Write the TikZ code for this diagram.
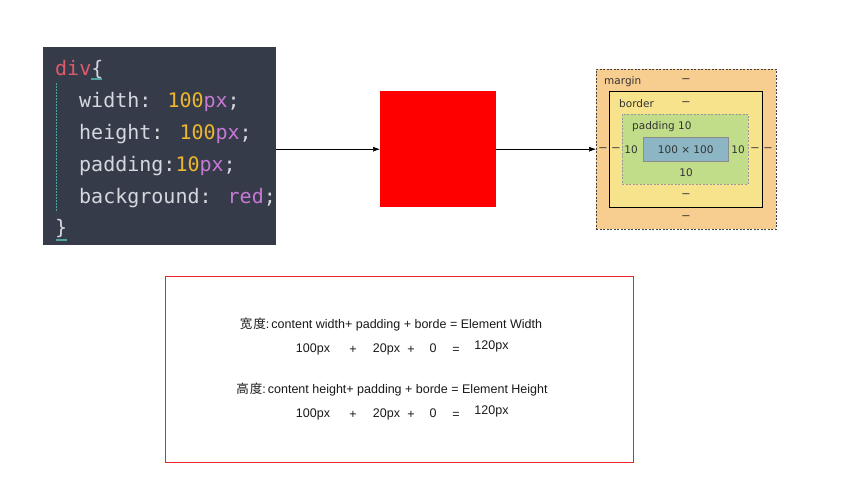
\documentclass[tikz,border=0pt]{standalone}
\usepackage{fontspec}
\setmainfont{Liberation Sans}
\newfontfamily\cjk{Noto Sans CJK SC}
\newfontfamily\codefont{DejaVu Sans Mono}
\newfontfamily\uifont{DejaVu Sans}
\usetikzlibrary{arrows.meta}

\definecolor{panelbg}{HTML}{363B4A}
\definecolor{kwred}{HTML}{E05A6A}
\definecolor{codefg}{HTML}{D5D8DF}
\definecolor{numyel}{HTML}{EDB62F}
\definecolor{unitpur}{HTML}{C679D4}
\definecolor{guide}{HTML}{4FA3A0}
\definecolor{marginfill}{HTML}{F8CD90}
\definecolor{borderfill}{HTML}{F7E38C}
\definecolor{paddingfill}{HTML}{C2DD89}
\definecolor{contentfill}{HTML}{8DB6C5}
\definecolor{boxtext}{HTML}{333333}
\definecolor{framered}{HTML}{E8262A}

\tikzset{
  codeline/.style={anchor=base west, inner sep=0, text=codefg,
    font=\codefont\fontsize{20}{24}\selectfont},
  boxlbl/.style={inner sep=0, text=boxtext,
    font=\uifont\fontsize{10.5}{12}\selectfont},
  boxdash/.style={inner sep=0, text=boxtext,
    font=\fontsize{13}{14}\selectfont},
  layer/.style={anchor=north west, inner sep=0},
  ftext/.style={anchor=base, inner sep=0, text=black!90,
    font=\fontsize{12.5}{14}\selectfont},
  arr/.style={-{Latex[length=7pt,width=5pt]}, line width=0.6pt}
}

\begin{document}
\begin{tikzpicture}[x=1pt, y=-1pt]
  \useasboundingbox (0,0) rectangle (858,488);

  % Code panel (dark)
  \node[layer, fill=panelbg, minimum width=233, minimum height=198] (code) at (43,47) {};
  \draw[guide, dash pattern=on 2pt off 1pt, line width=0.6pt] (56,83) -- (56,212);
  \node[codeline, text=kwred] (ldiv) at (55,75) {div\textcolor{codefg}{\{}};
  \node[codeline] (lwidth) at (79,107) {width: \textcolor{numyel}{100}\textcolor{unitpur}{px};};
  \node[codeline] (lheight) at (79,139) {height: \textcolor{numyel}{100}\textcolor{unitpur}{px};};
  \node[codeline] (lpadding) at (79,171) {padding:\textcolor{numyel}{10}\textcolor{unitpur}{px};};
  \node[codeline] (lbg) at (79,203) {background: \textcolor{unitpur}{red};};
  \node[codeline] (lclose) at (55,234) {\}};
  \draw[guide, line width=1.2pt] (91,79) -- (102,79);
  \draw[guide, line width=1.2pt] (56,240) -- (67,240);

  % Rendered element (red)
  \node[layer, fill=red, minimum width=116, minimum height=116] (redbox) at (380,91) {};

  % Box model
  \node[layer, fill=marginfill, draw=black!75, dash pattern=on 2pt off 1.5pt,
        minimum width=180, minimum height=160] (margin) at (596,69) {};
  \node[layer, fill=borderfill, draw=black, line width=0.7pt,
        minimum width=153, minimum height=116] (border) at (609,91) {};
  \node[layer, fill=paddingfill, draw=black!40, dash pattern=on 2pt off 1.5pt,
        minimum width=126, minimum height=70] (padding) at (622,114) {};
  \node[layer, fill=contentfill, draw=black!45,
        minimum width=85, minimum height=24] (content) at (643,137) {};
  \node[boxlbl] (csize) at (content.center) {100 × 100};

  \node[boxlbl, anchor=west] (mlbl) at (604,82) {margin};
  \node[boxdash] (mtop) at (686,81) {–};
  \node[boxlbl, anchor=west] (blbl) at (619,104) {border};
  \node[boxdash] (btop) at (686,104) {–};
  \node[boxlbl, anchor=west] (plbl) at (632,127) {padding 10};
  \node[boxlbl] (pleft) at (631,150) {10};
  \node[boxlbl] (pright) at (738,150) {10};
  \node[boxlbl] (pbot) at (686,173) {10};
  \node[boxdash] (bbot) at (686,196) {–};
  \node[boxdash] (mbot) at (686,218) {–};
  \node[boxdash] (mleft) at (603,150) {–};
  \node[boxdash] (bleft) at (616,150) {–};
  \node[boxdash] (bright) at (755,150) {–};
  \node[boxdash] (mright) at (768,150) {–};

  % Arrows
  \draw[arr] (code.east |- redbox.west) -- (redbox.west);
  \draw[arr] (redbox.east) -- (margin.west);

  % Formula frame (red)
  \node[layer, draw=framered, line width=0.7pt,
        minimum width=468, minimum height=186] (frame) at (165,276) {};

  % Width row
  \node[ftext] (wline) at (391,328) {{\cjk 宽\hspace{1pt}度}:\,content width+ padding + borde = Element Width};
  \node[ftext] (wc) at (313,352) {100px};
  \node[ftext] (wp1) at (353,353) {+};
  \node[ftext] (wpad) at (386.5,352) {20px};
  \node[ftext] (wp2) at (411,353) {+};
  \node[ftext] (wbor) at (433,352) {0};
  \node[ftext] (weq) at (456,353) {=};
  \node[ftext] (wres) at (491.5,349) {120px};

  % Height row
  \node[ftext] (hline) at (392,393) {{\cjk 高\hspace{1pt}度}:\,content height+ padding + borde = Element Height};
  \node[ftext] (hc) at (313,417) {100px};
  \node[ftext] (hp1) at (353,418) {+};
  \node[ftext] (hpad) at (386.5,417) {20px};
  \node[ftext] (hp2) at (411,418) {+};
  \node[ftext] (hbor) at (433,417) {0};
  \node[ftext] (heq) at (456,418) {=};
  \node[ftext] (hres) at (491.5,414) {120px};
\end{tikzpicture}
\end{document}
